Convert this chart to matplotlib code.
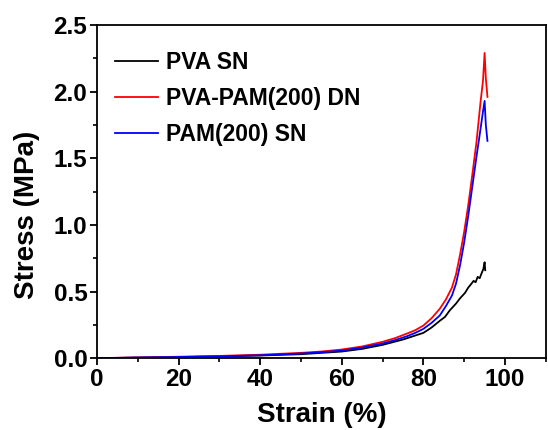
import numpy as np
import matplotlib.pyplot as plt
from matplotlib.ticker import MultipleLocator

plt.rcParams['font.family'] = ['Liberation Sans', 'DejaVu Sans']
plt.rcParams['font.weight'] = 'bold'

# strain (%) / stress (MPa)
pva_strain = [0, 10, 20, 30, 40, 50, 60, 65, 70, 75, 80, 82, 84, 85.3, 86.5, 88, 89, 90.2,
              91, 91.8, 92.3, 92.8, 93.3, 93.8, 94.3, 94.7, 95.0, 95.15]
pva_stress = [0, 0.004, 0.008, 0.013, 0.02, 0.03, 0.05, 0.07, 0.1, 0.14, 0.19, 0.23, 0.28, 0.31, 0.36, 0.41, 0.45, 0.49,
              0.53, 0.56, 0.58, 0.57, 0.61, 0.6, 0.64, 0.67, 0.72, 0.66]

dn_strain = [0, 10, 20, 30, 40, 50, 55, 60, 65, 70, 73, 76, 78, 80, 82, 84, 85.5, 87, 88,
             89, 90, 91, 92, 93, 94, 94.6, 95.0, 95.3, 95.7]
dn_stress = [0, 0.006, 0.011, 0.017, 0.026, 0.04, 0.05, 0.065, 0.088, 0.123, 0.15, 0.185, 0.21, 0.245, 0.3, 0.37, 0.44, 0.53, 0.63,
             0.78, 0.95, 1.15, 1.38, 1.62, 1.92, 2.08, 2.29, 2.1, 1.96]

pam_strain = [0, 10, 20, 30, 40, 50, 55, 60, 65, 70, 73, 76, 78, 80, 82, 84, 85.5, 87, 88,
              89, 90, 91, 92, 93, 94, 94.6, 95.0, 95.3, 95.7]
pam_stress = [0, 0.005, 0.009, 0.014, 0.022, 0.035, 0.045, 0.057, 0.08, 0.11, 0.135, 0.165, 0.19, 0.22, 0.265, 0.32, 0.39, 0.47, 0.56,
              0.7, 0.87, 1.07, 1.29, 1.51, 1.72, 1.85, 1.93, 1.75, 1.63]

labels = ['PVA SN', 'PVA-PAM(200) DN', 'PAM(200) SN']
colors = ['black', '#ff0000', '#0000ff']

fig = plt.figure(figsize=(5.48, 4.3), dpi=100)
ax = fig.add_axes([0.177, 0.167, 0.819, 0.775])

ax.plot(pva_strain, pva_stress, color=colors[0], lw=1.3, label=labels[0])
ax.plot(dn_strain, dn_stress, color=colors[1], lw=1.3, label=labels[1])
ax.plot(pam_strain, pam_stress, color=colors[2], lw=1.3, label=labels[2])

ax.set_xlim(0, 110)
ax.set_ylim(0, 2.5)
ax.xaxis.set_major_locator(MultipleLocator(20))
ax.xaxis.set_minor_locator(MultipleLocator(10))
ax.yaxis.set_major_locator(MultipleLocator(0.5))
ax.yaxis.set_minor_locator(MultipleLocator(0.25))
ax.yaxis.set_major_formatter(plt.FormatStrFormatter('%.1f'))
ax.tick_params(which='major', direction='out', length=5, width=1.3, labelsize=17.5, pad=2)
ax.tick_params(which='minor', direction='out', length=3, width=1.2)
for s in ax.spines.values():
    s.set_linewidth(1.3)

ax.set_xlabel('Strain (%)', fontsize=20, fontweight='bold', labelpad=8)
ax.set_ylabel('Stress (MPa)', fontsize=20, fontweight='bold')
ax.yaxis.set_label_coords(-0.128, 0.43)

leg = ax.legend(loc='upper left', bbox_to_anchor=(0.02, 0.948), frameon=False, handlelength=1.85,
                handletextpad=0.35, labelspacing=0.55, borderaxespad=0.0,
                prop={'weight': 'bold', 'size': 16.5})

fig.savefig('out.png', dpi=100)
